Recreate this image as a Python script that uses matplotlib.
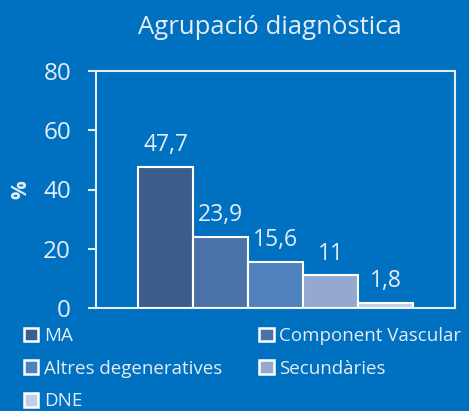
import matplotlib
matplotlib.use("Agg")
import matplotlib.pyplot as plt
import numpy as np

categories = ["MA", "Component Vascular", "Altres degeneratives", "Secundàries", "DNE"]
values = [47.7, 23.9, 15.6, 11, 1.8]
labels = ["47,7", "23,9", "15,6", "11", "1,8"]
colors = ["#3C5C8E", "#4A72A8", "#4F81BD", "#95A9D0", "#C3CDE5"]
yticks = [0, 20, 40, 60, 80]

bg = "#0070C0"
fg = "#E6ECF4"
plt.rcParams['font.family'] = ['Open Sans', 'DejaVu Sans']

fig = plt.figure(figsize=(4.69, 4.11), dpi=100, facecolor=bg)
ax = fig.add_axes([96/469, 1-308/411, (455-96)/469, (308-71)/411], facecolor=bg)

w = 55/359
n = len(values)
xs = (np.arange(n) - (n-1)/2) * w
bars = ax.bar(xs, values, width=w, color=colors, edgecolor="white", linewidth=1.5, label=categories, zorder=3)
for x, v, l in zip(xs, values, labels):
    ax.text(x, v + 5.3, l, ha="center", va="baseline", color=fg, fontsize=16.5)

ax.set_xlim(-0.5, 0.5)
ax.set_ylim(0, 80)
ax.set_yticks(yticks)
ax.set_xticks([])
ax.tick_params(axis="y", colors=fg, labelsize=17.5, length=6, width=1.5, direction="out", pad=12)
for s in ax.spines.values():
    s.set_color(fg)
    s.set_linewidth(1.5)
ax.set_ylabel("%", color=fg, fontsize=15, fontweight="bold")
ax.yaxis.set_label_coords(-(96-31)/359, 0.5)

fig.text(270/469, 1-28/411, "Agrupació diagnòstica", ha="center", va="center", color=fg, fontsize=18.5)

order = [0, 2, 4, 1, 3]
handles = [plt.Rectangle((0, 0), 1, 1, facecolor=colors[i], edgecolor="white", linewidth=1.8) for i in order]
leg = fig.legend(handles, [categories[i] for i in order], loc="upper left", bbox_to_anchor=(24/469, 1-327/411), ncol=2,
                 frameon=False, fontsize=13.5, labelcolor=fg, handlelength=0.75, handleheight=0.75,
                 handletextpad=0.3, columnspacing=2.0, labelspacing=0.78, borderaxespad=0, borderpad=0)

fig.savefig("out.png", dpi=100, facecolor=bg)
